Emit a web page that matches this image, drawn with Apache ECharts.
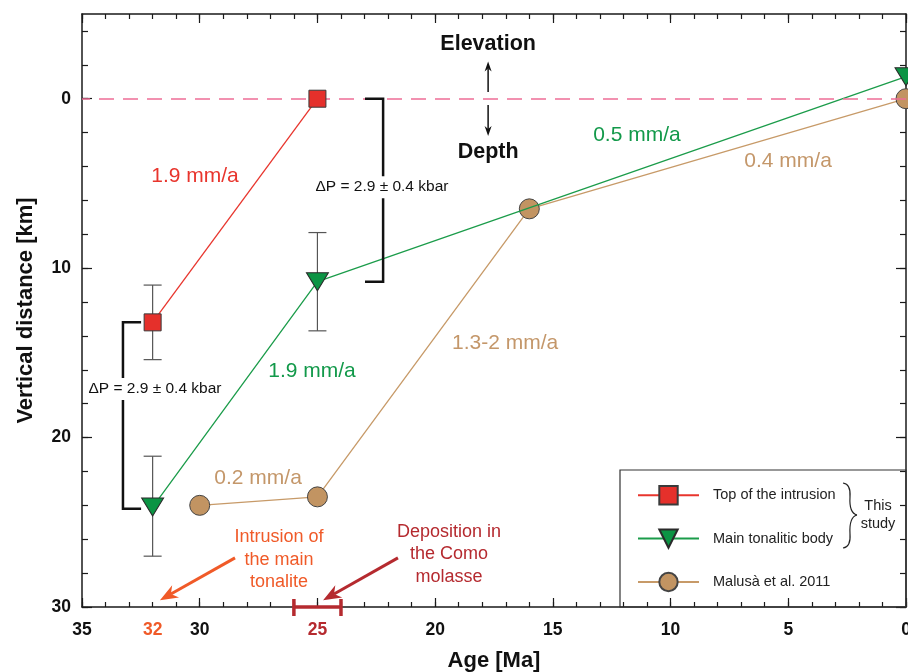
<!DOCTYPE html>
<html><head><meta charset="utf-8">
<script src="https://cdn.jsdelivr.net/npm/echarts@6/dist/echarts.min.js"></script>
<style>html,body{margin:0;padding:0;background:#fff}#c{width:908px;height:672px}</style>
</head><body><div id="c"></div>
<script>
const FONT = "'Liberation Sans', Arial, Helvetica, sans-serif";

// ---- data ----
const seriesNames = ['Top of the intrusion', 'Main tonalitic body', 'Malusà et al. 2011'];
const topAge = [32, 25];
const topDepth = [13.2, 0];
const mainAge = [32, 25, 0];
const mainDepth = [24.1, 10.8, -1.3];
const malAge = [30, 25, 16, 0];
const malDepth = [24.0, 23.5, 6.5, 0];
const errAge = [32, 32, 25];
const errLow = [11.0, 21.1, 7.9];
const errHigh = [15.4, 27.0, 13.7];

// ---- ticks ----
const xTickLabels = [35, 32, 30, 25, 20, 15, 10, 5, 0];
const xMajorTicks = [0, 5, 10, 15, 20, 25, 30, 35];
const xMinorTicks = [0,1,2,3,4,5,6,7,8,9,10,11,12,13,14,15,16,17,18,19,20,21,22,23,24,25,26,27,28,29,30,31,32,33,34,35];
const yTickLabels = [0, 10, 20, 30];
const yMajorTicks = [0, 10, 20, 30];
const yMinorTicks = [-4,-2,0,2,4,6,8,10,12,14,16,18,20,22,24,26,28,30];

const RED = '#e5302b', GREEN = '#0b9444', BROWN = '#c29462';
const RED_T = '#e8352d', GREEN_T = '#12994a', BROWN_T = '#c4976a';
const ORANGE = '#f05a28', DARKRED = '#b52a2f';
const AX = '#1a1a1a';

const chart = echarts.init(document.getElementById('c'), null, {renderer: 'canvas'});

function xAx(pos, ticks, len, showLine, label) {
  return {
    type: 'value', min: 0, max: 35, inverse: true, position: pos, gridIndex: 0,
    axisLine: {show: showLine, onZero: false, lineStyle: {color: AX, width: 1.5}},
    axisTick: {show: true, inside: true, length: len, customValues: ticks, lineStyle: {color: AX, width: 1.2}},
    axisLabel: label ? {
      show: true, customValues: xTickLabels, margin: 14,
      fontFamily: FONT, fontSize: 17.5, fontWeight: 'bold',
      color: function (v) { return v == 32 ? ORANGE : (v == 25 ? DARKRED : '#111'); }
    } : {show: false},
    splitLine: {show: false},
    name: label ? 'Age [Ma]' : '', nameLocation: 'middle', nameGap: 43,
    nameTextStyle: {fontFamily: FONT, fontSize: 22, fontWeight: 'bold', color: '#111'}
  };
}
function yAx(pos, ticks, len, showLine, label) {
  return {
    type: 'value', min: -5, max: 30, inverse: true, position: pos, gridIndex: 0,
    axisLine: {show: showLine, onZero: false, lineStyle: {color: AX, width: 1.5}},
    axisTick: {show: true, inside: true, length: len, customValues: ticks, lineStyle: {color: AX, width: 1.2}},
    axisLabel: label ? {
      show: true, customValues: yTickLabels, margin: 11,
      fontFamily: FONT, fontSize: 17.5, fontWeight: 'bold', color: '#111'
    } : {show: false},
    splitLine: {show: false},
    name: label ? 'Vertical distance [km]' : '', nameLocation: 'middle', nameGap: 45, nameRotate: 90,
    nameTextStyle: {fontFamily: FONT, fontSize: 22, fontWeight: 'bold', color: '#111'}
  };
}

const zip = (a, b) => a.map((v, i) => [v, b[i]]);

chart.setOption({
  animation: false,
  backgroundColor: '#fff',
  grid: {left: 82, top: 14, right: 2, bottom: 65, containLabel: false, outerBoundsMode: 'none'},
  xAxis: [
    xAx('bottom', xMinorTicks, 5, true, true),
    xAx('bottom', xMajorTicks, 9, false, false),
    xAx('top', xMinorTicks, 5, true, false),
    xAx('top', xMajorTicks, 9, false, false)
  ],
  yAxis: [
    yAx('left', yMinorTicks, 6, true, true),
    yAx('left', yMajorTicks, 10, false, false),
    yAx('right', yMinorTicks, 6, true, false),
    yAx('right', yMajorTicks, 10, false, false)
  ],
  legend: {
    data: seriesNames, orient: 'vertical', left: 637, top: 485, padding: 0,
    itemWidth: 61, itemHeight: 23, itemGap: 23, selectedMode: false,
    textStyle: {fontFamily: FONT, fontSize: 14.5, color: '#222', padding: [0, 0, 0, 9]}
  },
  series: [
    {
      name: 'errors', type: 'custom', xAxisIndex: 0, yAxisIndex: 0, z: 1, silent: true,
      data: errAge.map((a, i) => [a, errLow[i], errHigh[i]]),
      encode: {x: 0, y: [1, 2]},
      renderItem: function (params, api) {
        const x = api.value(0), lo = api.value(1), hi = api.value(2);
        const a = api.coord([x, lo]), b = api.coord([x, hi]);
        const w = 9, st = {stroke: '#555', lineWidth: 1.2};
        return {type: 'group', children: [
          {type: 'line', shape: {x1: a[0], y1: a[1], x2: b[0], y2: b[1]}, style: st},
          {type: 'line', shape: {x1: a[0] - w, y1: a[1], x2: a[0] + w, y2: a[1]}, style: st},
          {type: 'line', shape: {x1: b[0] - w, y1: b[1], x2: b[0] + w, y2: b[1]}, style: st}
        ]};
      },
      markLine: {
        silent: true, symbol: ['none', 'none'], label: {show: false},
        lineStyle: {color: '#ee6d97', type: [15, 9], width: 1.5},
        data: [{yAxis: 0}]
      }
    },
    {
      name: seriesNames[2], type: 'line', xAxisIndex: 0, yAxisIndex: 0, z: 3, clip: false,
      data: zip(malAge, malDepth), symbol: 'circle', symbolSize: 20,
      itemStyle: {color: BROWN, borderColor: '#444', borderWidth: 1},
      lineStyle: {color: '#c79a68', width: 1.3}
    },
    {
      name: seriesNames[1], type: 'line', xAxisIndex: 0, yAxisIndex: 0, z: 4, clip: false,
      data: zip(mainAge, mainDepth), symbol: 'triangle', symbolRotate: 180, symbolSize: [22, 18],
      itemStyle: {color: GREEN, borderColor: '#2a2a2a', borderWidth: 1},
      lineStyle: {color: '#1b9c4a', width: 1.3}
    },
    {
      name: seriesNames[0], type: 'line', xAxisIndex: 0, yAxisIndex: 0, z: 5, clip: false,
      data: zip(topAge, topDepth), symbol: 'rect', symbolSize: 17,
      itemStyle: {color: RED, borderColor: '#3a3a3a', borderWidth: 1},
      lineStyle: {color: RED_T, width: 1.3}
    }
  ]
});

// ---- annotations anchored in data coordinates ----
const P = (a, d) => chart.convertToPixel({seriesIndex: 0}, [a, d]);
const G = [];
function txt(a, d, text, color, size, weight, extra) {
  const p = P(a, d);
  G.push({type: 'text', z: 100, x: p[0], y: p[1], style: Object.assign({
    text: text, fill: color, align: 'center', verticalAlign: 'middle',
    font: (weight || 'normal') + ' ' + size + 'px ' + FONT
  }, extra || {})});
}
function seg(p0, p1, color, w) {
  G.push({type: 'line', z: 90, shape: {x1: p0[0], y1: p0[1], x2: p1[0], y2: p1[1]}, style: {stroke: color, lineWidth: w}});
}
function poly(points, color, w) {
  G.push({type: 'polyline', z: 90, shape: {points: points}, style: {stroke: color, lineWidth: w, fill: 'none'}});
}
function arrow(p0, p1, color, w, hl, hw) {
  const dx = p1[0] - p0[0], dy = p1[1] - p0[1], L = Math.hypot(dx, dy);
  const ux = dx / L, uy = dy / L, nx = -uy, ny = ux;
  const bx = p1[0] - ux * hl, by = p1[1] - uy * hl;
  seg(p0, [p1[0] - ux * hl * 0.7, p1[1] - uy * hl * 0.7], color, w);
  G.push({type: 'polygon', z: 91, shape: {points: [
    [p1[0], p1[1]], [bx + nx * hw / 2, by + ny * hw / 2], [p1[0] - ux * hl * 0.7, p1[1] - uy * hl * 0.7], [bx - nx * hw / 2, by - ny * hw / 2]
  ]}, style: {fill: color}});
}
function curve(x1, y1, cx, cy, x2, y2) {
  G.push({type: 'bezierCurve', z: 90, shape: {x1: x1, y1: y1, x2: x2, y2: y2, cpx1: cx, cpy1: cy}, style: {stroke: '#222', lineWidth: 1.2, fill: 'none'}});
}

// rate labels
txt(30.2, 4.57, '1.9 mm/a', RED_T, 21);
txt(25.23, 16.07, '1.9 mm/a', GREEN_T, 21);
txt(11.43, 2.14, '0.5 mm/a', GREEN_T, 21);
txt(5.01, 3.68, '0.4 mm/a', BROWN_T, 21);
txt(17.03, 14.41, '1.3-2 mm/a', BROWN_T, 21);
txt(27.52, 22.38, '0.2 mm/a', BROWN_T, 21);

// brackets (ΔP)
poly([P(22.98, 0), P(22.21, 0), P(22.21, 10.81), P(22.98, 10.81)], '#111', 2.5);
poly([P(32.49, 13.2), P(33.26, 13.2), P(33.26, 24.2), P(32.49, 24.2)], '#111', 2.5);
txt(22.26, 5.22, 'ΔP = 2.9 ± 0.4 kbar', '#111', 15.5, 'normal', {backgroundColor: '#fff', padding: [3, 1]});
txt(31.9, 17.13, 'ΔP = 2.9 ± 0.4 kbar', '#111', 15.5, 'normal', {backgroundColor: '#fff', padding: [3, 1]});

// Elevation / Depth
txt(17.75, -3.22, 'Elevation', '#111', 21.5, 'bold');
txt(17.75, 3.14, 'Depth', '#111', 21.5, 'bold');
arrow(P(17.75, -0.4), P(17.75, -2.2), '#111', 1.5, 10, 7);
arrow(P(17.75, 0.37), P(17.75, 2.2), '#111', 1.5, 10, 7);

// event notes
txt(26.63, 27.2, 'Intrusion of\nthe main\ntonalite', ORANGE, 18, 'normal', {lineHeight: 22.5});
txt(19.41, 26.9, 'Deposition in\nthe Como\nmolasse', DARKRED, 18, 'normal', {lineHeight: 22.5});
arrow(P(28.5, 27.1), P(31.69, 29.6), ORANGE, 3, 18, 14);
arrow(P(21.58, 27.1), P(24.76, 29.6), DARKRED, 3, 18, 14);

// molasse age range bar on the axis
const b0 = P(26, 30), b1 = P(24, 30);
seg(b0, b1, DARKRED, 3.5);
seg([b0[0], b0[1] - 8], [b0[0], b0[1] + 9], DARKRED, 3.5);
seg([b1[0], b1[1] - 8], [b1[0], b1[1] + 9], DARKRED, 3.5);

// legend frame, brace and note
G.push({type: 'rect', z: 50, shape: {x: 620, y: 470, width: 286, height: 137}, style: {stroke: '#333', lineWidth: 1.2, fill: 'transparent'}});
curve(843, 483, 851, 484, 850, 497);
curve(850, 497, 849, 513, 857, 515);
curve(857, 515, 849, 517, 850, 534);
curve(850, 534, 851, 547, 843, 548);
G.push({type: 'text', z: 100, x: 878, y: 515, style: {text: 'This\nstudy', fill: '#222', align: 'center', verticalAlign: 'middle', lineHeight: 18, font: '14.5px ' + FONT}});

chart.setOption({graphic: G});
</script>
</body></html>
